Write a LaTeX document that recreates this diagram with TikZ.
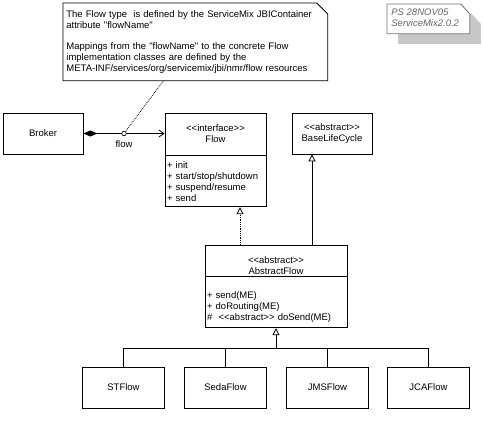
\documentclass[tikz,border=0pt]{standalone}
\usepackage{fontspec}
\setmainfont{Liberation Sans}
\usetikzlibrary{arrows.meta}
\usetikzlibrary{positioning}
\usetikzlibrary{calc}

\begin{document}
\begin{tikzpicture}[x=1pt,y=-1pt,
        font=\fontsize{9.5}{11}\selectfont,
        line width=0.8pt,
        classbox/.style={draw, inner sep=2pt, align=center, minimum height=41pt},
        opsbox/.style={draw, inner sep=2pt, align=left, text width=#1, minimum height=51pt},
        leafbox/.style={classbox, minimum width=82pt},
        inherit/.style={-{Triangle[open, width=7pt, length=7pt]}},
        shadowgray/.style={fill=black!22, draw=none}]
            \useasboundingbox (0,0) rectangle (483,425);
            % comment note
            \node[anchor=north west, text width=258pt, minimum height=77pt, inner sep=3pt, align=left] (spec) at (63,3)
                {The Flow type\ \ is defined by the ServiceMix JBIContainer\\
                 attribute \textquotedbl flowName\textquotedbl\\[10pt]
                 Mappings from the \textquotedbl flowName\textquotedbl{} to the concrete Flow\\
                 implementation classes are defined by the\\
                 META-INF/services/org/servicemix/jbi/nmr/flow resources};
            \draw (spec.south west) -- (spec.north west) -- ([xshift=-11pt]spec.north east) --
                ([yshift=-11pt]spec.north east) -- (spec.south east) -- cycle;
            % version stamp
            \node[anchor=north west, minimum width=82pt, minimum height=29pt, inner sep=0pt] (stampframe) at (387,4) {};
            \begin{scope}[transform canvas={xshift=11pt, yshift=-10pt}]
                \fill[shadowgray] (stampframe.south west) -- (stampframe.north west) -- ([xshift=-9pt]stampframe.north east) --
                    ([yshift=-10pt]stampframe.north east) -- (stampframe.south east) -- cycle;
            \end{scope}
            \filldraw[fill=white, draw=black!55] (stampframe.south west) -- (stampframe.north west) -- ([xshift=-9pt]stampframe.north east) --
                ([yshift=-10pt]stampframe.north east) -- (stampframe.south east) -- cycle;
            \node[anchor=north west, align=left, text=black!60, font=\fontsize{9.5}{11}\selectfont\itshape, inner sep=0pt] (stamp)
                at ([xshift=4pt, yshift=-4.5pt]stampframe.north west) {PS 28NOV05\\ServiceMix2.0.2};
            % classes
            \node[classbox, minimum width=80pt] (broker) at (43,133.5) {Broker};
            \node[classbox, minimum width=101pt, minimum height=42pt] (flow) at (215.5,134)
                {<{}<interface>{}>\\Flow};
            \node[opsbox=97pt, anchor=north] (flowops) at (flow.south)
                {+ init\\+ start/stop/shutdown\\+ suspend/resume\\+ send};
            \node[classbox, minimum width=80pt] (base) at (332,133.5) {<{}<abstract>{}>\\BaseLifeCycle};
            \node[classbox, minimum width=142pt, minimum height=31pt] (absflow) at (276,260.5) {};
            \node[align=center, inner sep=0pt] (absname) at ([yshift=-5pt]absflow.center)
                {<{}<abstract>{}>\\AbstractFlow};
            \node[opsbox=138pt, anchor=north, text depth=15pt] (absops) at (absflow.south)
                {+ send(ME)\\+ doRouting(ME)\\\#\ \ <{}<abstract>{}> doSend(ME)};
            \node[leafbox] (stflow) at (123.5,387.5) {STFlow};
            \node[leafbox] (sedaflow) at (225.5,387.5) {SedaFlow};
            \node[leafbox] (jmsflow) at (327.5,387.5) {JMSFlow};
            \node[leafbox] (jcaflow) at (428.5,387.5) {JCAFlow};
            % association broker -> flow
            \draw[{Diamond[width=6pt, length=14pt]}-{Straight Barb[length=5pt, width=7pt]}]
                (broker.east) -- (flow.west |- broker.east);
            \node[circle, draw, fill=white, inner sep=0pt, minimum size=4.5pt, line width=0.7pt] (role)
                at ($(broker.east)!0.5!(flow.west |- broker.east)$) {};
            \node[below=3pt of role, inner sep=1pt] (rolename) {flow};
            \draw[densely dotted] ([xshift=-32pt]spec.south) -- (role);
            % generalizations
            \draw[densely dotted, inherit] ([xshift=-36pt]absflow.north) -- ([xshift=-36pt]absflow.north |- flowops.south);
            \draw[inherit] ([xshift=36pt]absflow.north) -- ([xshift=36pt]absflow.north |- base.south);
            \coordinate (join) at ([yshift=-20pt]absops.south);
            \draw[inherit] (join) -- (absops.south);
            \draw (stflow.north) |- (join) -| (jcaflow.north);
            \draw (sedaflow.north) -- (sedaflow.north |- join);
            \draw (jmsflow.north) -- (jmsflow.north |- join);
        \end{tikzpicture}
\end{document}
